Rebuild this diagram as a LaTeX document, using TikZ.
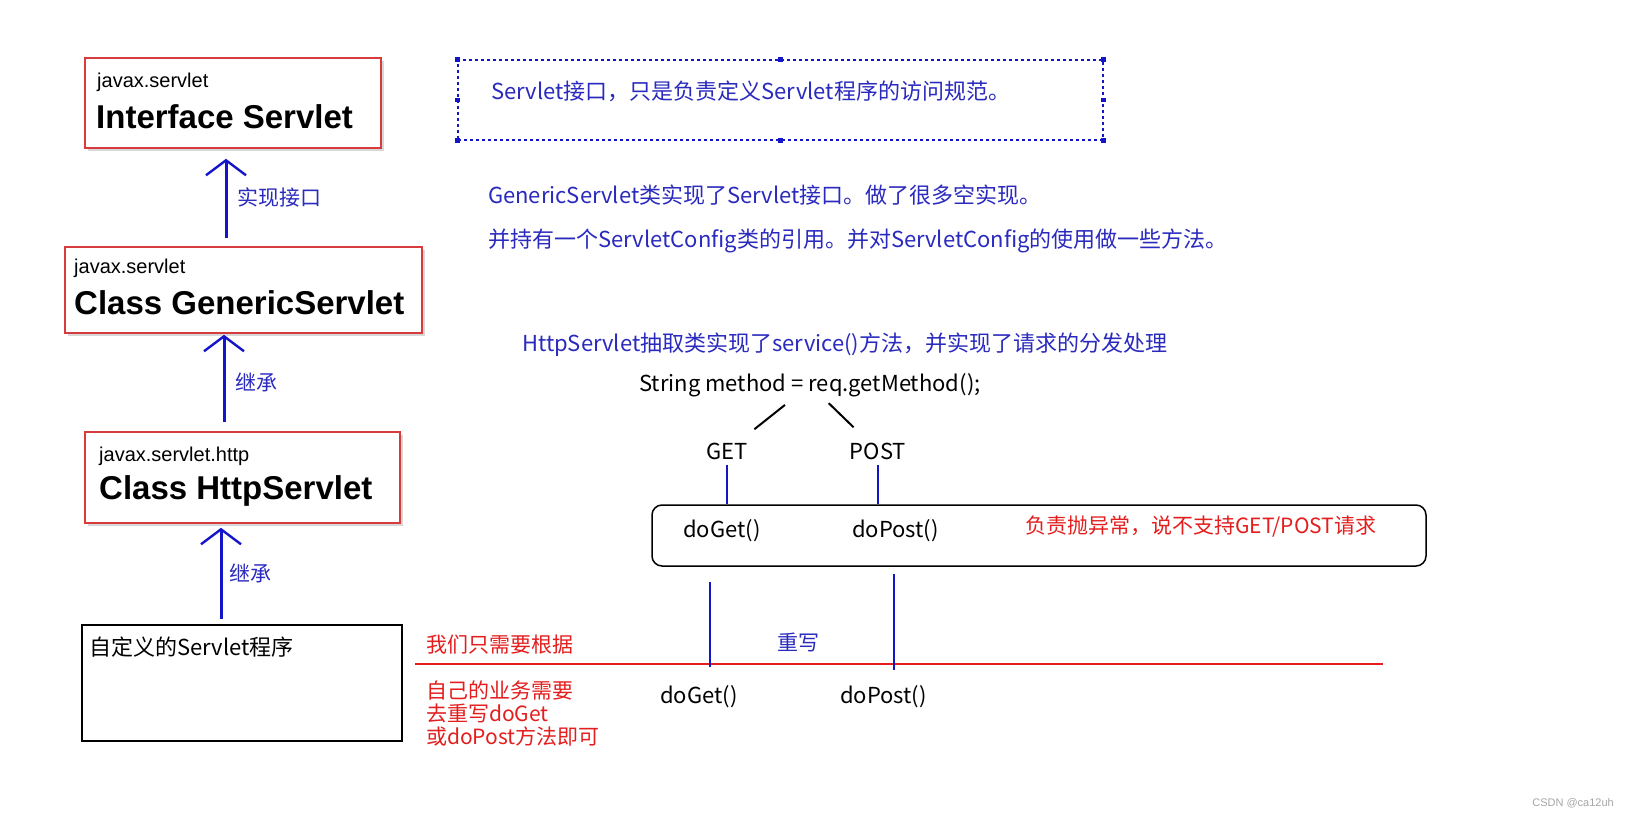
\documentclass[tikz,border=0pt]{standalone}
\usepackage{fontspec}
\setmainfont{Liberation Sans}
\newfontfamily\cjk{Noto Sans CJK SC}
\usepackage{tikz}
\usetikzlibrary{arrows.meta, shadows}
\definecolor{boxred}{HTML}{D83B3B}
\definecolor{markred}{HTML}{E41E1E}
\definecolor{penblue}{HTML}{1414C8}
\definecolor{inkblue}{HTML}{2A2ABE}

\begin{document}
\begin{tikzpicture}[x=1pt, y=-1pt,
    cls/.style={rectangle, draw=boxred, line width=1.6pt, fill=white,
                drop shadow={shadow xshift=3pt, shadow yshift=-3pt, opacity=0.3}},
    pkg/.style={anchor=west, inner sep=0pt, font=\fontsize{20}{24}\selectfont},
    ttl/.style={anchor=west, inner sep=0pt, font=\fontsize{33}{38}\selectfont\bfseries},
    note/.style={anchor=west, inner sep=0pt, text=inkblue, font=\cjk\fontsize{22}{26}\selectfont},
    code/.style={inner sep=0pt, font=\cjk\fontsize{22}{26}\selectfont},
    warn/.style={anchor=west, inner sep=0pt, text=markred, font=\cjk\fontsize{21}{23}\selectfont},
    inh/.style={-{Straight Barb[length=15pt, width=40pt, line width=2.4pt]}, line width=3pt, penblue},
    pen/.style={line width=2pt, penblue},
    split/.style={line width=2pt, black}
  ]
  \fill[white] (0,0) rectangle (1628,817);
  \useasboundingbox (0,0) rectangle (1628,817);

  % class hierarchy
  \node[cls, minimum width=296pt, minimum height=90pt] (S) at (233,103) {};
  \node[pkg] (Spkg) at (97,82)  {javax.servlet};
  \node[ttl] (Sttl) at (96,117) {Interface Servlet};

  \node[cls, minimum width=357pt, minimum height=86pt] (G) at (243.5,290) {};
  \node[pkg] (Gpkg) at (74,268) {javax.servlet};
  \node[ttl] (Gttl) at (74,303) {Class GenericServlet};

  \node[cls, minimum width=315pt, minimum height=91pt] (H) at (242.5,477.5) {};
  \node[pkg] (Hpkg) at (99,456) {javax.servlet.http};
  \node[ttl] (Httl) at (99,491) {Class HttpServlet};

  \node[rectangle, draw=black, line width=2.8pt, minimum width=320pt, minimum height=116pt] (C) at (242,683) {};
  \node[code, anchor=west] (Ctxt) at (89,647) {自定义的Servlet程序};

  \draw[inh, shorten <=8pt, shorten >=10pt] ([xshift=-17.5pt]G.north) -- ([xshift=-17.5pt]G.north |- S.south)
    node[midway, anchor=west, xshift=10pt, note, font=\cjk\fontsize{21}{24}\selectfont] {实现接口};
  \draw[inh, shorten <=9pt, shorten >=1pt] ([xshift=-18.5pt]H.north) -- ([xshift=-18.5pt]H.north |- G.south)
    node[midway, anchor=west, xshift=10pt, note, font=\cjk\fontsize{21}{24}\selectfont] {继承};
  \draw[inh, shorten <=5pt, shorten >=4pt] ([xshift=-21pt]C.north) -- ([xshift=-21pt]C.north |- H.south)
    node[midway, anchor=west, xshift=7pt, note, font=\cjk\fontsize{21}{24}\selectfont] {继承};

  % notes
  \node[draw=penblue, dashed, line width=1.3pt, minimum width=645pt, minimum height=80pt] (frame) at (780.5,100) {};
  \foreach \a in {north west, north, north east, east, south east, south, south west, west}
    \fill[penblue] (frame.\a) +(-2.2,-2.2) rectangle +(2.2,2.2);
  \node[note] (n1) at (491,91)  {Servlet接口，只是负责定义Servlet程序的访问规范。};
  \node[note] (n2) at (488,195) {GenericServlet类实现了Servlet接口。做了很多空实现。};
  \node[note] (n3) at (488,241) {并持有一个ServletConfig类的引用。并对ServletConfig的使用做一些方法。};
  \node[note] (n4) at (522,345) {HttpServlet抽取类实现了service()方法，并实现了请求的分发处理};

  % dispatch
  \node[code] (fork) at (810,385) {String method = req.getMethod();};
  \node[code] (GET)  at (727,451) {GET};
  \node[code] (POST) at (878,451) {POST};
  \draw[split, shorten <=32pt, shorten >=35pt] (fork.center) -- (GET.center);
  \draw[split, shorten <=26pt, shorten >=34pt] (fork.center) -- (POST.center);

  \node[draw, line width=1.5pt, rounded corners=10pt, minimum width=774pt, minimum height=61pt] (panel) at (1039,535.5) {};
  \draw[pen, shorten <=5pt] (GET.south) -- (GET.south |- panel.north);
  \draw[pen, shorten <=5pt] (POST.south) -- (POST.south |- panel.north);
  \node[code, anchor=west] (pGet)  at (683,531) {doGet()};
  \node[code, anchor=west] (pPost) at (852,531) {doPost()};
  \node[warn, font=\cjk\fontsize{21}{25}\selectfont] (err) at (1025,527) {负责抛异常，说不支持GET/POST请求};

  % override
  \coordinate (rl) at (415,664);
  \coordinate (rr) at (1383,664);
  \draw[markred, line width=1.5pt] (rl) -- (rr);
  \coordinate (og) at (710,582);
  \coordinate (op) at (894,574);
  \draw[pen] (og) -- ++(0,85);
  \draw[pen] (op) -- ++(0,96);
  \node[warn] (w1) at (426,645) {我们只需要根据};
  \node[note, font=\cjk\fontsize{21}{24}\selectfont] (ow) at (777,642) {重写};
  \node[warn, align=left] (w2) at (426,713) {自己的业务需要\\去重写doGet\\或doPost方法即可};
  \node[code, anchor=west] (oGet)  at (660,697) {doGet()};
  \node[code, anchor=west] (oPost) at (840,697) {doPost()};

  \node[anchor=east, inner sep=0pt, text=gray!70, font=\fontsize{11}{13}\selectfont] (mark) at (1614,803) {CSDN @ca12uh};
\end{tikzpicture}
\end{document}
